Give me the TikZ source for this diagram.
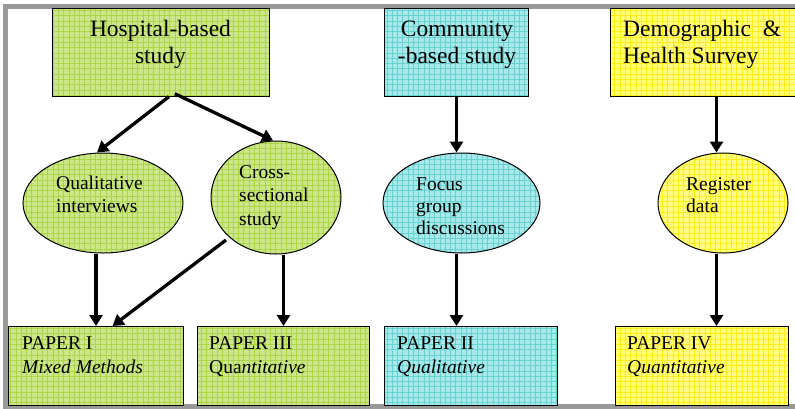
\documentclass[tikz,border=0pt]{standalone}
\usepackage{fontspec}
\setmainfont{Liberation Serif}
\usetikzlibrary{shapes.geometric,arrows.meta,patterns.meta,calc}
\definecolor{gbase}{HTML}{CDE68C}
\definecolor{ggrid}{HTML}{AAD645}
\definecolor{cbase}{HTML}{A8E8E8}
\definecolor{cgrid}{HTML}{66D2D2}
\definecolor{ybase}{HTML}{FFFF78}
\definecolor{ygrid}{HTML}{FFEA1A}
\definecolor{framegray}{HTML}{999999}
\newcommand{\rA}{\rule{0pt}{20pt}}
\newcommand{\rB}{\rule{0pt}{16pt}}
\tikzset{
  grid fill/.style 2 args={preaction={fill=#1}, pattern={Hatch[distance=5.3pt,line width=0.7pt]}, pattern color=#2},
  boxshape/.style={draw=black, line width=1pt, rectangle, inner sep=0pt, anchor=north west},
  ovalshape/.style={draw=black, line width=1pt, ellipse, inner sep=0pt},
  bigtext/.style={font=\fontsize{23.5}{27}\selectfont, inner sep=0pt},
  smalltext/.style={font=\fontsize{19.5}{23}\selectfont, inner sep=0pt, align=left, anchor=north west},
  papertext/.style={font=\fontsize{19.5}{24}\selectfont, inner sep=0pt, align=left, anchor=north west},
  arr/.style={line width=3.3pt, -{Triangle[length=11pt,width=13pt]}},
}
\begin{document}
\begin{tikzpicture}[x=1pt,y=-1pt]
\useasboundingbox (0,0) rectangle (795,408);
\clip (0,0) rectangle (795,408);
\draw[framegray, line width=5pt] (5,6) rectangle (840,406);

% top boxes
\node[boxshape, grid fill={gbase}{ggrid}, minimum width=217pt, minimum height=88pt] (hosp) at (52,8) {};
\node[boxshape, grid fill={cbase}{cgrid}, minimum width=144pt, minimum height=88pt] (comm) at (384,8) {};
\node[boxshape, grid fill={ybase}{ygrid}, minimum width=212pt, minimum height=88pt] (dhs) at (610,8) {};
\node[bigtext, align=center, anchor=north] (hosp-t) at (160.5,16) {\rA Hospital-based\\study};
\node[bigtext, align=center, anchor=north] (comm-t) at (457,16) {\rA Community\\-based study};
\node[bigtext, align=left, anchor=north west] (dhs-t) at (623,16) {\rA Demographic\ \ \&\\Health Survey};

% ellipses
\node[ovalshape, grid fill={gbase}{ggrid}, minimum width=160pt, minimum height=100pt] (qi) at (103,203) {};
\node[ovalshape, grid fill={gbase}{ggrid}, minimum width=130pt, minimum height=113pt] (cs) at (276,197.5) {};
\node[ovalshape, grid fill={cbase}{cgrid}, minimum width=157pt, minimum height=100pt] (fg) at (461.5,203) {};
\node[ovalshape, grid fill={ybase}{ygrid}, minimum width=130pt, minimum height=100pt] (rd) at (723,203) {};
\node[smalltext] (qi-t) at (56,173) {\rB Qualitative\\interviews};
\node[smalltext, font=\fontsize{19.5}{23.5}\selectfont] (cs-t) at (239,162) {\rB Cross-\\sectional\\study};
\node[smalltext, font=\fontsize{19.5}{22}\selectfont] (fg-t) at (416,174) {\rB Focus\\group\\discussions};
\node[smalltext, font=\fontsize{19.5}{22}\selectfont] (rd-t) at (686,174) {\rB Register\\data};

% papers
\node[boxshape, grid fill={gbase}{ggrid}, minimum width=175pt, minimum height=79pt] (p1) at (8,326) {};
\node[boxshape, grid fill={gbase}{ggrid}, minimum width=172pt, minimum height=79pt] (p3) at (197,326) {};
\node[boxshape, grid fill={cbase}{cgrid}, minimum width=173pt, minimum height=79pt] (p2) at (384,326) {};
\node[boxshape, grid fill={ybase}{ygrid}, minimum width=173pt, minimum height=79pt] (p4) at (615,326) {};
\node[papertext] (p1-t) at (22,333) {\rB PAPER I\\\textit{Mixed Methods}};
\node[papertext] (p3-t) at (209,333) {\rB PAPER III\\Qua\textit{ntitative}};
\node[papertext] (p2-t) at (397,333) {\rB PAPER II\\\textit{Qualitative}};
\node[papertext] (p4-t) at (627,333) {\rB PAPER IV\\\textit{Quantitative}};

% arrows
\draw[arr] ($(hosp.south)+(8,0)$) -- ($(qi.north)+(-6,0)$);
\draw[arr] ($(hosp.south)+(14,-3)$) -- ($(cs.north)+(-3,0)$);
\draw[arr] (qi.south -| p1.north) -- (p1.north);
\draw[arr] ($(cs.center)+(-50,42.5)$) -- ($(p1.north)+(16.5,0)$);
\draw[arr] (cs.south -| p3.north) -- (p3.north);
\draw[arr] (comm.south) -- (comm.south |- fg.north);
\draw[arr] (fg.south -| comm.south) -- (p2.north -| comm.south);
\draw[arr] (dhs.south) -- (dhs.south |- rd.north);
\draw[arr] (rd.south -| dhs.south) -- (p4.north -| dhs.south);
\end{tikzpicture}
\end{document}
